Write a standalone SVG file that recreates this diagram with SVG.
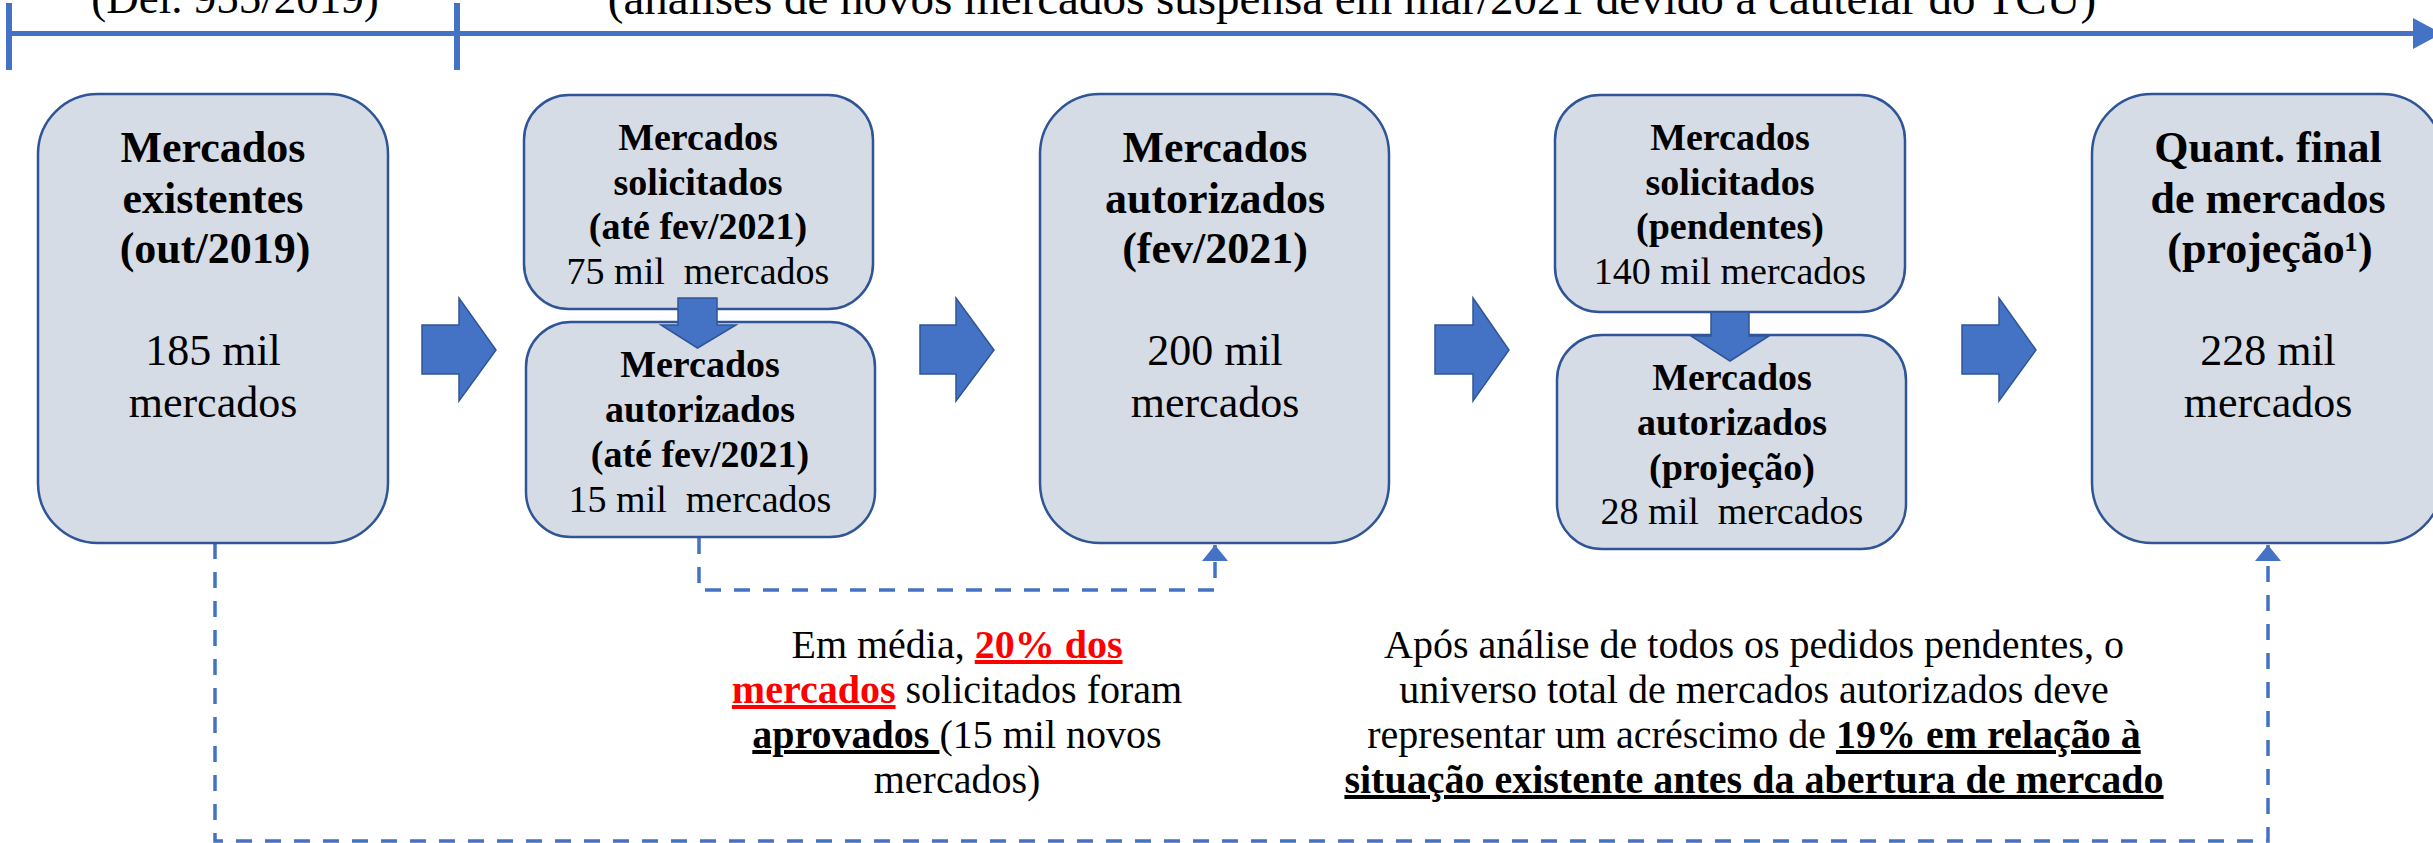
<svg xmlns="http://www.w3.org/2000/svg" width="2433" height="843" viewBox="0 0 2433 843">
<style>
.box{fill:#D6DCE5;stroke:#2F5597;stroke-width:2.5}
.barrow{fill:#4472C4;stroke:#2F5597;stroke-width:1.5}
.t{font-family:"Liberation Serif",serif;fill:#000;text-anchor:middle}
.big{font-size:44px}
.small{font-size:38px}
.note{font-size:40px}
.top{font-size:45px}
.top2{font-size:47px}
.b{font-weight:bold}
.u{text-decoration:underline}
.red{fill:#FF0000}
.dash{fill:none;stroke:#4472C4;stroke-width:3.5;stroke-dasharray:16 13}
.tl{fill:#4472C4}
</style>
<defs>
<marker id="up" markerUnits="userSpaceOnUse" viewBox="0 0 16 26" markerWidth="16" markerHeight="26" refX="16" refY="13" orient="auto">
<path d="M0,0 L16,13 L0,26 Z" fill="#4472C4"/>
</marker>
</defs>

<g id="timeline">
<rect class="tl" x="9" y="31" width="2406" height="5"/>
<polygon class="tl" points="2413,18 2442,33.5 2413,49"/>
<rect class="tl" x="6" y="3" width="6" height="67"/>
<rect class="tl" x="454" y="3" width="6" height="67"/>
<text class="t top" x="235" y="13">(Del. 955/2019)</text>
<text class="t top2" x="1352" y="14">(análises de novos mercados suspensa em mar/2021 devido à cautelar do TCU)</text>
</g>

<g id="connectors">
<path class="dash" d="M215,543 V841 H2268 V545" marker-end="url(#up)"/>
<path class="dash" d="M699,538 V590 H1215 V545" marker-end="url(#up)"/>
<path class="barrow" d="M422,325 H459 V298 L496,350 L459,401 V374 H422 Z"/>
<path class="barrow" d="M920,325 H956 V298 L994,350 L956,401 V374 H920 Z"/>
<path class="barrow" d="M1435,325 H1473 V298 L1509,350 L1473,401 V374 H1435 Z"/>
<path class="barrow" d="M1962,325 H1999 V298 L2036,350 L1999,401 V374 H1962 Z"/>
</g>

<g id="box1">
<rect class="box" x="38" y="94" width="350" height="449" rx="60"/>
<text class="t big b" x="213" y="162">Mercados</text>
<text class="t big b" x="213" y="213">existentes</text>
<text class="t big b" x="215" y="263">(out/2019)</text>
<text class="t big" x="213" y="365">185 mil</text>
<text class="t big" x="213" y="417">mercados</text>
</g>

<g id="box2a">
<rect class="box" x="524" y="95" width="349" height="214" rx="45"/>
<text class="t small b" x="698" y="150">Mercados</text>
<text class="t small b" x="698" y="195">solicitados</text>
<text class="t small b" x="698" y="239">(até fev/2021)</text>
<text class="t small" x="698" y="284">75 mil&#160; mercados</text>
</g>

<g id="box2b">
<rect class="box" x="526" y="322" width="349" height="215" rx="45"/>
<text class="t small b" x="700" y="377">Mercados</text>
<text class="t small b" x="700" y="422">autorizados</text>
<text class="t small b" x="700" y="467">(até fev/2021)</text>
<text class="t small" x="700" y="512">15 mil&#160; mercados</text>
</g>

<g id="down1">
<path class="barrow" d="M678,298 H717 V325 H736 L697.5,348 L661,325 H678 Z"/>
</g>

<g id="box3">
<rect class="box" x="1040" y="94" width="349" height="449" rx="60"/>
<text class="t big b" x="1215" y="162">Mercados</text>
<text class="t big b" x="1215" y="213">autorizados</text>
<text class="t big b" x="1215" y="263">(fev/2021)</text>
<text class="t big" x="1215" y="365">200 mil</text>
<text class="t big" x="1215" y="417">mercados</text>
</g>

<g id="box4a">
<rect class="box" x="1555" y="95" width="350" height="217" rx="45"/>
<text class="t small b" x="1730" y="150">Mercados</text>
<text class="t small b" x="1730" y="195">solicitados</text>
<text class="t small b" x="1730" y="239">(pendentes)</text>
<text class="t small" x="1730" y="284">140 mil mercados</text>
</g>

<g id="box4b">
<rect class="box" x="1557" y="335" width="349" height="214" rx="45"/>
<text class="t small b" x="1732" y="390">Mercados</text>
<text class="t small b" x="1732" y="435">autorizados</text>
<text class="t small b" x="1732" y="480">(projeção)</text>
<text class="t small" x="1732" y="524">28 mil&#160; mercados</text>
</g>

<g id="down2">
<path class="barrow" d="M1711,312 H1749 V336 H1769 L1730,361 L1691,336 H1711 Z"/>
</g>

<g id="box5">
<rect class="box" x="2092" y="94" width="350" height="449" rx="60"/>
<text class="t big b" x="2268" y="162">Quant. final</text>
<text class="t big b" x="2268" y="213">de mercados</text>
<text class="t big b" x="2270" y="263">(projeção¹)</text>
<text class="t big" x="2268" y="365">228 mil</text>
<text class="t big" x="2268" y="417">mercados</text>
</g>

<g id="note1">
<text class="t note" x="957" y="658">Em média, <tspan class="b u red">20% dos</tspan></text>
<text class="t note" x="957" y="703"><tspan class="b u red">mercados</tspan> solicitados foram</text>
<text class="t note" x="957" y="748"><tspan class="b u">aprovados </tspan>(15 mil novos</text>
<text class="t note" x="957" y="793">mercados)</text>
</g>

<g id="note2">
<text class="t note" x="1754" y="658">Após análise de todos os pedidos pendentes, o</text>
<text class="t note" x="1754" y="703">universo total de mercados autorizados deve</text>
<text class="t note" x="1754" y="748">representar um acréscimo de <tspan class="b u">19% em relação à</tspan></text>
<text class="t note b u" x="1754" y="793">situação existente antes da abertura de mercado</text>
</g>
</svg>
